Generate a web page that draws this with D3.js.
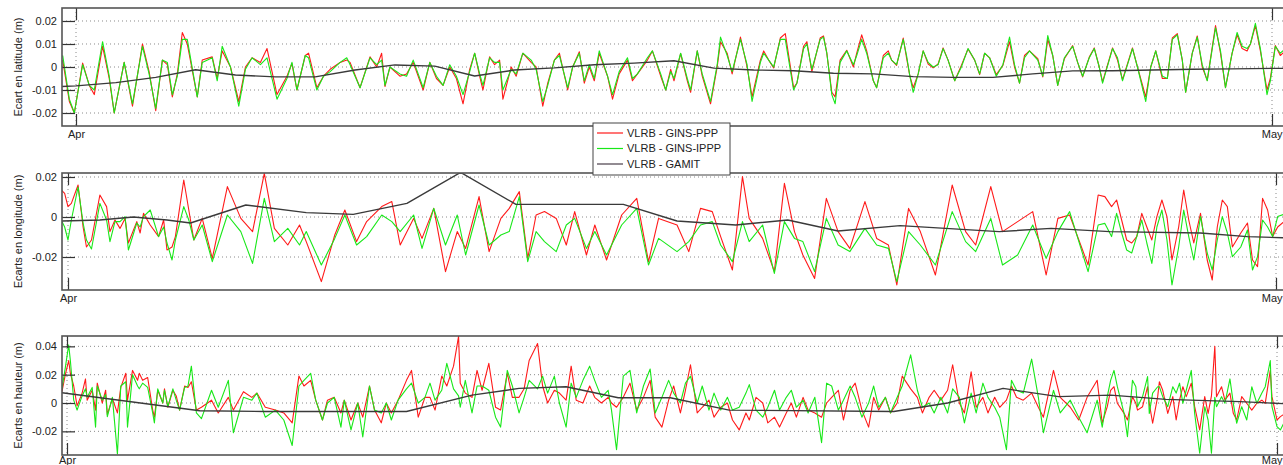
<!DOCTYPE html>
<html>
<head>
<meta charset="utf-8">
<script src="https://cdn.jsdelivr.net/npm/d3@7"></script>
<style>
  html, body { margin: 0; padding: 0; background: #fff; overflow: hidden; }
  svg { display: block; }
  text { font-family: "Liberation Sans", Arial, Helvetica, sans-serif; fill: #222; }
</style>
</head>
<body>
<svg id="chart" width="1283" height="465"></svg>
<script>
// ---- Time axis: hours since 1 April 00:00 ----
const monthLabels = ["Apr", "May"];
const monthHours = [0, 720];

// ---- Latitude residuals (m) ----
const latHours = [
  -8,-4,-1,4,8,11,16,20,23,29,
  34,40,44,48,52,55,58,61,64,67,
  73,76,82,85,88,93,98,102,106,111,
  115,121,127,130,133,138,140,145,149,153,
  159,163,165,171,177,181,184,186,189,195,
  199,203,209,213,217,221,225,229,233,237,
  240,243,245,249,252,255,257,262,265,269,
  274,277,281,284,288,291,296,299,303,306,
  309,312,315,320,323,327,332,335,338,344,
  347,352,355,358,360,364,368,370,374,377,
  382,386,388,392,395,400,404,407,412,414,
  417,420,424,427,432,434,438,440,443,448,
  450,452,455,457,460,464,468,470,473,476,
  480,482,486,489,491,494,498,500,502,504,
  507,510,513,516,519,522,525,529,533,537,
  541,544,547,550,554,558,562,565,568,571,
  574,579,582,585,588,591,595,600,603,606,
  610,613,616,618,624,627,630,636,639,644,
  647,650,654,657,660,663,666,668,672,675,
  678,681,686,689,692,696,699,702,705,707,
  710,713,717,719,722,725,728
];
const latPPP = [
  0.003,-0.015,-0.020,0.0017,-0.008,-0.012,0.009,-0.005,-0.020,0.002,
  -0.017,0.010,-0.002,-0.019,0.003,0.001,-0.013,-0.003,0.015,0.010,
  -0.013,0.003,0.0044,-0.005,0.007,0.000,-0.015,0.000,0.004,0.002,
  0.008,-0.012,-0.004,0.0015,-0.010,0.005,0.006,-0.009,-0.004,-0.001,
  0.002,0.003,0.002,-0.009,0.0044,0.000,0.006,-0.0085,0.000,-0.004,
  -0.003,0.002,-0.010,0.002,-0.005,-0.008,0.000,-0.005,-0.016,-0.001,
  0.006,-0.004,-0.010,0.0044,0.001,0.003,-0.014,0.000,-0.004,0.006,
  0.002,0.000,-0.017,-0.007,0.003,0.006,-0.010,0.000,0.0066,-0.007,
  0.000,-0.006,0.006,-0.004,-0.014,-0.003,0.003,-0.006,-0.003,0.003,
  0.007,-0.004,-0.010,-0.001,-0.006,0.0058,-0.006,-0.011,0.007,-0.004,
  -0.016,0.000,0.011,0.006,-0.003,0.013,0.000,-0.013,0.003,0.007,
  0.003,-0.0004,0.0126,0.0145,-0.009,-0.007,0.009,0.011,-0.002,0.0126,
  0.0135,0.006,-0.011,-0.013,0.003,0.0073,0.000,0.006,0.014,0.007,
  -0.006,-0.009,0.005,0.007,0.003,0.0007,0.0126,0.004,-0.004,-0.009,
  -0.003,0.007,0.0013,-0.0004,0.0013,0.0083,0.003,-0.006,0.0007,0.0078,
  0.003,-0.0033,0.006,0.004,-0.0033,0.0007,0.011,0.000,-0.007,0.005,
  0.007,0.0036,-0.0043,0.012,0.005,-0.008,0.0036,0.0093,0.002,-0.0043,
  0.0043,0.0083,0.000,-0.0065,0.0083,0.003,-0.0055,0.0083,0.000,-0.013,
  0.000,0.007,-0.005,-0.005,0.0126,0.0145,0.003,-0.011,0.006,0.0135,
  0.000,-0.0058,0.018,0.006,-0.009,0.006,0.014,0.008,0.007,0.010,
  0.018,0.007,-0.010,-0.005,0.0093,0.005,0.007
];
const latIPPP = [
  0.005,-0.014,-0.020,0.001,-0.008,-0.010,0.011,-0.004,-0.020,0.002,
  -0.016,0.009,-0.003,-0.018,0.003,0.002,-0.012,-0.004,0.012,0.012,
  -0.013,0.002,0.004,-0.006,0.009,0.000,-0.017,-0.001,0.004,0.001,
  0.004,-0.014,-0.005,0.002,-0.010,0.005,0.004,-0.010,-0.004,-0.002,
  0.002,0.004,0.001,-0.009,0.004,0.001,0.003,-0.008,0.000,-0.003,
  -0.004,0.003,-0.009,0.002,-0.004,-0.008,0.001,-0.004,-0.012,-0.002,
  0.006,-0.003,-0.008,0.004,0.002,0.002,-0.010,-0.001,-0.003,0.006,
  0.003,-0.001,-0.015,-0.008,0.003,0.005,-0.009,0.000,0.006,-0.006,
  0.001,-0.005,0.007,-0.004,-0.012,-0.002,0.004,-0.005,-0.003,0.004,
  0.007,-0.003,-0.010,-0.002,-0.005,0.006,-0.005,-0.010,0.007,-0.003,
  -0.015,0.001,0.013,0.005,-0.002,0.012,0.001,-0.015,0.002,0.006,
  0.003,0.000,0.012,0.012,-0.010,-0.007,0.008,0.010,-0.001,0.012,
  0.013,0.006,-0.012,-0.016,0.002,0.007,0.001,0.005,0.012,0.006,
  -0.006,-0.009,0.004,0.006,0.003,0.001,0.012,0.005,-0.004,-0.011,
  -0.003,0.007,0.002,0.000,0.001,0.008,0.003,-0.006,0.000,0.008,
  0.003,-0.003,0.006,0.004,-0.004,0.001,0.013,0.001,-0.007,0.004,
  0.007,0.003,-0.004,0.0137,0.005,-0.008,0.004,0.009,0.002,-0.004,
  0.004,0.008,0.000,-0.007,0.008,0.004,-0.006,0.008,0.000,-0.015,
  0.000,0.007,-0.004,-0.005,0.012,0.014,0.003,-0.011,0.006,0.013,
  0.001,-0.006,0.017,0.007,-0.009,0.006,0.015,0.009,0.008,0.010,
  0.019,0.008,-0.012,-0.006,0.009,0.006,0.008
];
const latGamitHours = [-9,0,24,48,72,96,120,144,168,192,216,240,264,288,312,336,360,384,408,432,456,480,504,528,552,576,600,624,648,672,696,720,730];
const latGamit = [-0.0085,-0.0082,-0.0068,-0.0045,-0.0012,-0.0035,-0.0043,-0.0043,-0.0013,0.0009,0.0004,-0.0039,-0.0013,-0.0004,0.0010,0.0017,0.0027,-0.0005,-0.0013,-0.0016,-0.0027,-0.0030,-0.0042,-0.0045,-0.0045,-0.0030,-0.0017,-0.0016,-0.0013,-0.0010,-0.0008,-0.0006,-0.0006];
const latTicks = [0.02, 0.01, 0, -0.01, -0.02];

// ---- Longitude residuals (m) ----
const lonHours = [
  -4,-2,0,2,6,9,11,14,19,23,
  25,28,31,34,36,41,43,45,49,54,
  57,59,62,64,69,72,75,80,86,95,
  103,110,117,123,131,138,142,151,159,165,
  172,178,187,193,198,206,211,218,225,232,
  237,245,251,258,263,269,274,279,284,291,
  297,302,309,314,321,330,339,346,352,363,
  370,377,384,389,396,402,406,414,421,427,
  433,438,445,452,459,466,475,482,489,494,
  501,508,517,527,535,541,550,557,566,575,
  583,590,597,608,614,618,622,625,628,631,
  634,637,640,643,646,649,652,655,658,662,
  665,668,671,675,679,682,685,688,691,694,
  699,703,706,709,712,715,718,721,726
];
const lonPPP = [
  0.0135,0.0118,0.0052,0.0068,0.016,-0.005,-0.015,-0.0115,0.011,0.0052,
  -0.0073,-0.0015,-0.0057,-0.0007,-0.013,-0.0023,-0.008,0.0018,-0.004,-0.0098,
  -0.0015,-0.0165,-0.015,-0.0098,0.0185,0.0035,-0.0115,-0.0007,-0.0207,0.0152,
  -0.0007,-0.0073,0.0218,-0.0057,-0.014,-0.004,-0.0123,-0.0323,-0.009,0.0035,
  -0.0123,-0.0023,0.0052,0.0077,-0.014,-0.0007,-0.0107,0.0043,-0.0273,-0.0073,
  -0.0157,0.0102,-0.0173,-0.0007,0.0043,0.0127,-0.0207,0.001,0.0027,-0.0007,
  -0.014,0.0027,-0.019,-0.004,-0.0215,0.001,0.0093,-0.0223,-0.0007,-0.004,
  -0.0173,0.0043,0.0027,-0.0098,-0.0265,0.0202,-0.0007,-0.0107,-0.0273,0.0168,
  -0.0073,-0.019,-0.0307,0.0093,-0.0073,-0.0157,0.0077,-0.0107,-0.014,-0.034,
  0.0043,-0.0073,-0.029,0.016,-0.0073,-0.014,0.0152,-0.0073,-0.0023,0.0027,
  -0.029,-0.0007,0.001,-0.024,0.011,0.0102,0.0052,0.0085,-0.0015,-0.0115,
  -0.013,-0.0098,0.0018,-0.005,-0.0115,0.0002,0.0085,0.0002,-0.0215,-0.005,
  0.0135,-0.0015,-0.013,0.0018,-0.0215,-0.0315,-0.005,0.0085,0.0052,-0.015,
  -0.008,-0.003,-0.0215,-0.0248,0.0093,0.0035,-0.0098,-0.005,-0.0015
];
const lonIPPP = [
  -0.0015,-0.005,-0.0115,-0.0015,0.015,-0.003,-0.0115,-0.016,0.0068,-0.0015,
  -0.0123,-0.0023,-0.0023,0.0002,-0.0165,-0.003,-0.005,0.0002,0.0035,-0.0098,
  -0.005,-0.013,-0.0215,-0.0115,0.0052,-0.0015,-0.0115,-0.004,-0.0223,0.001,
  -0.0073,-0.0232,0.0093,-0.0123,-0.0057,-0.014,-0.0073,-0.024,-0.0107,0.001,
  -0.014,-0.0098,0.001,-0.0023,-0.0073,0.001,-0.0157,0.0043,-0.014,0.001,
  -0.019,0.006,-0.014,-0.009,-0.0073,0.0102,-0.0223,-0.0073,-0.0123,-0.0173,
  -0.004,-0.0007,-0.0157,-0.0073,-0.019,-0.004,0.0043,-0.024,-0.0107,-0.0173,
  -0.0123,-0.004,-0.0023,-0.014,-0.0223,-0.0023,-0.0123,-0.004,-0.0282,-0.0023,
  -0.0107,-0.0123,-0.0273,-0.0007,-0.014,-0.0173,-0.0057,-0.014,-0.0157,-0.0323,
  -0.0073,-0.014,-0.024,0.0027,-0.0123,-0.0173,-0.0007,-0.024,-0.019,-0.004,
  -0.0207,-0.0073,0.0027,-0.0273,-0.004,-0.0032,-0.0098,0.0018,-0.008,-0.0165,
  -0.018,-0.0098,-0.0015,-0.013,-0.0232,-0.005,0.0035,-0.0115,-0.034,-0.015,
  0.0035,-0.0098,-0.0215,0.0002,-0.018,-0.0265,-0.0115,0.0002,-0.008,-0.0198,
  -0.015,-0.0065,-0.0265,-0.0198,-0.0015,-0.005,-0.0098,0.0002,0.0018
];
const lonGamitHours = [-4,19,39,59,73,106,142,170,202,234,267,331,363,398,429,459,496,555,586,621,675,703,728];
const lonGamit = [-0.002,-0.0015,0,-0.0015,-0.003,0.006,0.0022,0.0013,0.0068,0.0223,0.0063,0.0063,-0.002,-0.004,-0.0015,-0.007,-0.0043,-0.0073,-0.0057,-0.0073,-0.008,-0.0098,-0.0105];
const lonTicks = [0.02, 0, -0.02];

// ---- Height residuals (m) ----
const hgtHours = [
  -3,-1,1,2,4,6,9,11,12,15,
  17,18,21,23,24,27,30,32,35,36,
  39,42,43,45,48,51,52,54,57,58,
  60,63,65,67,70,72,74,77,80,86,
  90,96,99,105,110,113,118,124,129,134,
  138,141,145,148,152,155,159,163,165,169,
  173,176,180,183,187,190,193,197,202,205,
  209,213,216,219,223,226,230,233,234,237,
  241,244,247,251,255,258,262,265,269,272,
  275,280,283,286,290,293,297,300,303,307,
  311,314,318,322,324,327,331,335,339,343,
  347,350,354,358,361,365,368,371,375,378,
  382,385,389,393,396,400,404,406,410,414,
  417,421,424,428,431,434,438,441,445,449,
  452,455,459,462,466,469,473,477,480,483,
  487,490,494,497,502,506,509,513,516,520,
  524,527,531,534,538,541,545,548,552,555,
  559,562,565,569,574,578,581,587,591,597,
  602,607,613,616,619,621,623,625,629,631,
  634,636,637,640,643,644,646,649,650,652,
  655,658,660,662,664,666,669,671,674,677,
  679,681,683,684,687,689,692,694,696,699,
  702,705,708,711,713,716,717,720,722,725
];
const hgtPPP = [
  0.008,0.020,0.030,0.021,0.012,-0.002,0.007,0.017,0.002,0.009,
  -0.005,0.014,0.000,0.009,-0.008,0.003,-0.007,0.011,0.021,0.002,
  0.023,0.016,0.021,0.016,0.018,-0.005,-0.010,0.009,0.000,0.010,
  -0.003,0.009,0.005,-0.005,0.012,0.011,0.015,-0.005,-0.003,0.002,
  -0.007,0.004,-0.005,0.008,0.004,0.007,-0.003,-0.005,-0.007,-0.014,
  0.019,0.012,0.016,0.002,-0.012,0.002,0.004,-0.007,0.002,-0.012,
  0.000,-0.010,0.012,-0.005,-0.014,0.000,-0.007,0.002,0.016,0.023,
  -0.010,0.004,0.004,-0.005,0.019,0.012,0.026,0.047,0.014,0.007,
  0.004,0.023,0.009,0.028,-0.003,-0.005,0.021,0.004,0.004,0.010,
  0.030,0.042,0.012,0.000,0.009,0.007,0.002,0.026,0.002,0.000,
  0.012,0.004,0.000,0.004,0.000,-0.003,0.004,0.014,-0.005,0.004,
  0.016,-0.010,-0.017,0.002,0.012,-0.007,0.009,0.027,-0.007,-0.003,
  0.002,-0.010,-0.003,0.000,-0.012,-0.019,-0.007,-0.012,0.004,0.000,
  -0.014,-0.010,-0.017,-0.007,0.000,-0.010,0.004,-0.005,-0.007,-0.010,
  0.000,0.004,0.009,-0.012,0.009,0.014,-0.005,-0.017,0.004,-0.005,
  0.004,-0.007,0.000,0.019,0.010,0.004,-0.007,0.004,0.009,0.002,
  0.009,0.027,0.000,-0.007,0.022,-0.003,0.004,-0.007,0.004,-0.003,
  0.002,0.012,0.004,0.002,0.007,-0.003,-0.010,0.023,0.004,-0.003,
  -0.012,0.004,0.016,-0.014,-0.0026,0.009,0.0115,-0.0002,-0.0073,-0.012,
  0.0045,-0.0002,-0.005,-0.0026,0.0115,-0.0002,-0.0143,0.0045,0.015,0.009,
  -0.0073,0.0045,-0.012,0.002,0.0115,0.0045,0.014,-0.0026,-0.019,0.0045,
  -0.0073,0.005,0.040,0.0045,0.0115,0.002,0.007,-0.0073,-0.012,0.0045,
  -0.0002,-0.005,-0.0002,0.002,-0.0002,0.023,0.0045,-0.012,-0.0096,-0.0073
];
const hgtIPPP = [
  0.010,0.025,0.041,0.030,0.002,-0.005,0.005,0.010,0.004,0.011,
  -0.017,0.012,0.002,0.006,-0.0096,0.004,-0.036,0.012,0.015,-0.017,
  0.020,0.012,0.010,0.014,0.011,-0.007,-0.014,0.010,0.000,0.009,
  -0.0026,0.010,0.002,-0.005,0.011,0.012,0.026,-0.007,-0.011,0.009,
  -0.003,0.016,-0.021,0.004,0.002,0.007,-0.010,-0.005,-0.012,-0.030,
  0.012,0.016,0.021,0.002,-0.012,0.000,0.004,-0.017,0.002,-0.019,
  0.000,-0.024,0.012,-0.005,-0.007,0.000,-0.012,0.002,0.010,0.014,
  0.000,0.004,0.014,0.002,0.009,0.028,0.010,0.005,-0.003,0.016,
  -0.007,0.012,0.012,0.009,-0.010,-0.017,0.023,0.012,-0.007,0.004,
  0.016,0.010,0.019,0.007,0.019,0.000,-0.017,0.014,0.004,0.016,
  0.026,0.016,0.004,0.009,-0.005,-0.033,0.019,0.023,-0.007,0.012,
  0.024,-0.007,0.004,0.016,0.007,0.000,0.014,0.019,0.000,0.012,
  -0.005,0.007,-0.005,0.004,-0.005,-0.003,0.007,0.013,-0.005,-0.010,
  -0.003,0.009,-0.005,0.004,0.009,-0.003,0.002,-0.007,0.004,-0.028,
  0.014,0.012,-0.005,0.002,0.012,0.004,-0.010,0.000,0.012,-0.003,
  0.004,-0.007,0.004,0.012,0.034,0.009,-0.003,0.000,-0.007,0.004,
  -0.007,0.010,0.004,-0.014,0.007,-0.007,0.014,0.004,-0.003,-0.010,
  -0.033,0.016,0.009,0.007,0.031,0.004,-0.021,0.009,-0.007,0.002,
  -0.010,-0.021,0.002,-0.017,0.0045,0.016,0.023,0.0115,-0.0073,-0.0238,
  0.016,0.0115,-0.0026,0.0045,0.0186,-0.0073,0.007,0.0115,0.0115,0.0045,
  -0.0026,0.0115,0.007,0.014,-0.0002,0.009,0.023,-0.0073,-0.0355,-0.0026,
  -0.012,-0.0355,0.004,-0.0026,0.0045,-0.0002,0.017,-0.0002,-0.0143,-0.0026,
  -0.012,0.0115,-0.0002,0.007,0.0115,0.030,-0.0026,-0.0167,-0.019,-0.012
];
const hgtGamitHours = [-3,79,118,202,241,269,297,328,359,394,492,524,557,590,621,654,698,728];
const hgtGamit = [0.0073,-0.0055,-0.006,-0.006,0.0056,0.0103,0.0115,0.0037,0.0037,-0.005,-0.006,0,0.0103,0.0045,0.0056,0.0026,0.001,-0.0007];
const hgtTicks = [0.04, 0.02, 0, -0.02];

const seriesNames = ["VLRB - GINS-PPP", "VLRB - GINS-IPPP", "VLRB - GAMIT"];
const seriesColors = ["#ff1a1a", "#18e818", "#3a3a3a"];

// ---- Panel geometry ----
const frameLeft = 62, frameRight = 1292, textRightEdge = 1282;
const panels = [
  { title: "Ecart en latitude (m)", hours: latHours, ppp: latPPP, ippp: latIPPP,
    gHours: latGamitHours, gamit: latGamit, ticks: latTicks, labelPad: 4,
    top: 8, bottom: 126, xApr: 76, xMay: 1272, yDom: [-0.02565, 0.02565] },
  { title: "Ecarts en longitude (m)", hours: lonHours, ppp: lonPPP, ippp: lonIPPP,
    gHours: lonGamitHours, gamit: lonGamit, ticks: lonTicks, labelPad: 4,
    top: 173, bottom: 290, xApr: 68, xMay: 1276, yDom: [-0.0365, 0.022] },
  { title: "Ecarts en hauteur (m)", hours: hgtHours, ppp: hgtPPP, ippp: hgtIPPP,
    gHours: hgtGamitHours, gamit: hgtGamit, ticks: hgtTicks, labelPad: 1,
    top: 336, bottom: 455, xApr: 67, xMay: 1277, yDom: [-0.0367, 0.0473] }
];

const t0 = Date.UTC(2012, 3, 1);
const toDate = h => new Date(t0 + h * 3600000);
const monthDates = monthHours.map(toDate);

const svg = d3.select("#chart");

panels.forEach((p, pi) => {
  const x = d3.scaleUtc().domain(monthDates).range([p.xApr, p.xMay]);
  const y = d3.scaleLinear().domain(p.yDom).range([p.bottom, p.top]);
  const g = svg.append("g");

  const clipId = "clip" + pi;
  svg.append("clipPath").attr("id", clipId)
    .append("rect")
    .attr("x", frameLeft).attr("y", p.top)
    .attr("width", frameRight - frameLeft).attr("height", p.bottom - p.top);

  // dotted grid
  g.append("g").selectAll("line").data(p.ticks).join("line")
    .attr("x1", frameLeft).attr("x2", frameRight)
    .attr("y1", d => y(d)).attr("y2", d => y(d))
    .attr("stroke", "#8a8a8a").attr("stroke-width", 1)
    .attr("stroke-dasharray", "1,3");
  g.append("g").selectAll("line").data(monthDates).join("line")
    .attr("x1", d => x(d)).attr("x2", d => x(d))
    .attr("y1", p.top).attr("y2", p.bottom)
    .attr("stroke", "#8a8a8a").attr("stroke-width", 1)
    .attr("stroke-dasharray", "1,3");

  // series
  const plot = g.append("g").attr("clip-path", `url(#${clipId})`);
  const line = d3.line().x(d => x(toDate(d[0]))).y(d => y(d[1]));
  const pppPts = p.hours.map((h, i) => [h, p.ppp[i]]);
  const ipppPts = p.hours.map((h, i) => [h, p.ippp[i]]);
  const gamPts = p.gHours.map((h, i) => [h, p.gamit[i]]);
  plot.append("path").attr("d", line(pppPts))
    .attr("fill", "none").attr("stroke", seriesColors[0]).attr("stroke-width", 1.1)
    .attr("stroke-linejoin", "round");
  plot.append("path").attr("d", line(ipppPts))
    .attr("fill", "none").attr("stroke", seriesColors[1]).attr("stroke-width", 1.1)
    .attr("stroke-linejoin", "round");
  plot.append("path").attr("d", line(gamPts))
    .attr("fill", "none").attr("stroke", seriesColors[2]).attr("stroke-width", 1.4)
    .attr("stroke-linejoin", "round");

  // y axis with inward ticks
  const ya = g.append("g").attr("transform", `translate(${frameLeft},0)`)
    .call(d3.axisLeft(y).tickValues(p.ticks).tickFormat(d => String(d))
      .tickSizeInner(-13).tickSizeOuter(0).tickPadding(5));
  ya.select(".domain").remove();
  ya.selectAll(".tick line").attr("stroke", "#333").attr("stroke-width", 1.2);
  ya.selectAll(".tick text").attr("font-size", 11)
    .attr("font-family", '"Liberation Sans", Arial, sans-serif').attr("fill", "#222");

  // x axis: month ticks top and bottom, labels below
  const xb = g.append("g").attr("transform", `translate(0,${p.bottom})`)
    .call(d3.axisBottom(x).tickValues(monthDates).tickFormat((d, i) => monthLabels[i])
      .tickSizeInner(-12).tickSizeOuter(0).tickPadding(p.labelPad));
  xb.select(".domain").remove();
  xb.selectAll(".tick line").attr("stroke", "#333").attr("stroke-width", 1.2);
  xb.selectAll(".tick text").attr("font-size", 11)
    .attr("font-family", '"Liberation Sans", Arial, sans-serif').attr("fill", "#222");
  // keep the last month label inside the drawing area
  xb.selectAll(".tick").filter((d, i) => i === monthDates.length - 1).select("text")
    .attr("text-anchor", "end")
    .attr("x", textRightEdge - x(monthDates[monthDates.length - 1]));
  const xt = g.append("g").attr("transform", `translate(0,${p.top})`)
    .call(d3.axisTop(x).tickValues(monthDates).tickFormat("")
      .tickSizeInner(-12).tickSizeOuter(0));
  xt.select(".domain").remove();
  xt.selectAll(".tick line").attr("stroke", "#333").attr("stroke-width", 1.2);

  // frame
  g.append("rect")
    .attr("x", frameLeft).attr("y", p.top)
    .attr("width", frameRight - frameLeft).attr("height", p.bottom - p.top)
    .attr("fill", "none").attr("stroke", "#555").attr("stroke-width", 1.6);

  // axis title
  g.append("text")
    .attr("transform", `translate(18,${(p.top + p.bottom) / 2}) rotate(-90)`)
    .attr("text-anchor", "middle").attr("dominant-baseline", "central")
    .attr("font-size", 11).attr("fill", "#333")
    .text(p.title);
});

// legend between the first two panels
const lg = svg.append("g").attr("transform", "translate(593,123)");
lg.append("rect").attr("width", 137).attr("height", 52)
  .attr("fill", "#fff").attr("stroke", "#444").attr("stroke-width", 1);
seriesNames.forEach((name, i) => {
  const yy = 10 + i * 15.5;
  lg.append("line").attr("x1", 4).attr("x2", 30).attr("y1", yy).attr("y2", yy)
    .attr("stroke", i === 2 ? "#4a3f4a" : seriesColors[i]).attr("stroke-width", 1.2);
  lg.append("text").attr("x", 34).attr("y", yy).attr("dy", "0.35em")
    .attr("font-size", 11).attr("fill", "#333").text(name);
});
</script>
</body>
</html>
